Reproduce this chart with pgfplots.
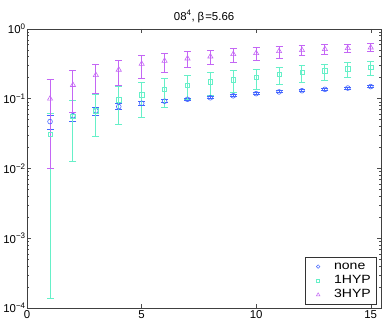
\documentclass[border=0pt]{standalone}
\usepackage{pgfplots}
\pgfplotsset{compat=1.18}
\usepackage{fontspec}
\setmainfont{Liberation Sans}
\newfontfamily\legfont[FakeStretch=1.18]{Liberation Sans}
\definecolor{cnone}{HTML}{4466FF}
\definecolor{c1hyp}{HTML}{66F0C8}
\definecolor{c3hyp}{HTML}{C466F5}

\pgfplotsset{
    mkleg/.style={legend image code/.code={%
        \path[draw=none] (0bp,0bp) -- (24bp,0bp);
        \draw[##1] plot[only marks] coordinates {(10bp,0bp)};}},
}

% x  y  plus  minus
\pgfplotstableread{
x y ep em
1 0.047 0.011 0.011
2 0.057 0.007 0.010
3 0.067 0.008 0.009
4 0.077 0.008 0.007
5 0.086 0.005 0.005
6 0.092 0.004 0.004
7 0.098 0.004 0.004
8 0.103 0.004 0.004
9 0.110 0.004 0.004
10 0.118 0.004 0.004
11 0.125 0.004 0.004
12 0.130 0.004 0.004
13 0.136 0.005 0.005
14 0.142 0.005 0.005
15 0.149 0.005 0.005
}\tnone
\pgfplotstableread{
x y ep em
1 0.031 0.031 0.030865
2 0.056 0.038 0.0435
3 0.067 0.047 0.0387
4 0.096 0.054 0.054
5 0.113 0.060 0.060
6 0.137 0.060 0.061
7 0.157 0.061 0.060
8 0.175 0.065 0.065
9 0.187 0.067 0.064
10 0.204 0.062 0.067
11 0.223 0.060 0.065
12 0.238 0.065 0.065
13 0.251 0.062 0.066
14 0.268 0.066 0.064
15 0.283 0.062 0.068
}\tonehyp
\pgfplotstableread{
x y ep em
1 0.100 0.090 0.090
2 0.157 0.097 0.093
3 0.218 0.088 0.100
4 0.260 0.093 0.103
5 0.316 0.100 0.119
6 0.349 0.100 0.109
7 0.377 0.092 0.100
8 0.402 0.088 0.092
9 0.435 0.088 0.105
10 0.450 0.085 0.098
11 0.480 0.086 0.099
12 0.496 0.081 0.080
13 0.513 0.078 0.078
14 0.530 0.074 0.065
15 0.541 0.076 0.061
}\tthreehyp

\begin{document}
\begin{tikzpicture}
\begin{axis}[
    name=ax,
    scale only axis,
    width=355bp, height=280bp,
    ymode=log,
    xmin=0, xmax=15.45,
    ymin=1e-4, ymax=1,
    xtick={0,5,10,15},
    ytick={1e-4,1e-3,1e-2,1e-1,1},
    yticklabels={10\textsuperscript{−4},10\textsuperscript{−3},10\textsuperscript{−2},10\textsuperscript{−1},10\textsuperscript{0}},
    /pgf/number format/assume math mode=true,
    tick label style={font=\fontsize{11.5}{13}\selectfont, black},
    yticklabel style={xshift=2bp},
    xticklabel style={yshift=1bp},
    tick align=inside,
    major tick length=4bp,
    minor tick length=2bp,
    tick style={black!70, line width=0.4pt},
    axis line style={black!75, line width=0.5pt},
    title={08\textsuperscript{4},\hspace{3bp}β\hspace{1bp}=5.66},
    title style={font=\fontsize{11.5}{13}\selectfont, yshift=-3bp},
    legend style={at={(1,0)}, anchor=south east, xshift=-5bp, yshift=4bp,
        font=\legfont\fontsize{12}{13}\selectfont, draw=black!80,
        row sep=0.2bp, inner xsep=3bp, inner ysep=2bp,
        nodes={inner xsep=2bp, inner ysep=1.5bp, text height=8.6bp, text depth=2.4bp}},
    legend cell align=left,
]
\addplot[only marks, mark=o, mark size=2.4pt, color=cnone, line width=0.6pt,
    mkleg, legend image post style={mark size=1.8pt, line width=0.5pt},
    error bars/.cd, y dir=both, y explicit,
    error bar style={color=cnone, line width=1bp},
    error mark options={rotate=90, mark size=3.5bp, color=cnone, line width=1bp}]
    table[x=x, y=y, y error plus=ep, y error minus=em]{\tnone};
\addlegendentry{none}
\addplot[only marks, mark=square, mark size=2.2pt, color=c1hyp, line width=0.6pt,
    mkleg, legend image post style={mark size=1.5pt, line width=0.5pt},
    error bars/.cd, y dir=both, y explicit,
    error bar style={color=c1hyp, line width=1bp},
    error mark options={rotate=90, mark size=3.5bp, color=c1hyp, line width=1bp}]
    table[x=x, y=y, y error plus=ep, y error minus=em]{\tonehyp};
\addlegendentry{1HYP}
\addplot[only marks, mark=triangle, mark size=3pt, color=c3hyp, line width=0.6pt,
    mkleg, legend image post style={mark size=2.1pt, line width=0.5pt},
    error bars/.cd, y dir=both, y explicit,
    error bar style={color=c3hyp, line width=1bp},
    error mark options={rotate=90, mark size=3.5bp, color=c3hyp, line width=1bp}]
    table[x=x, y=y, y error plus=ep, y error minus=em]{\tthreehyp};
\addlegendentry{3HYP}
\end{axis}
\useasboundingbox ([xshift=-26bp,yshift=-18bp]ax.south west) rectangle ([xshift=4bp,yshift=29bp]ax.north east);
\end{tikzpicture}
\end{document}
